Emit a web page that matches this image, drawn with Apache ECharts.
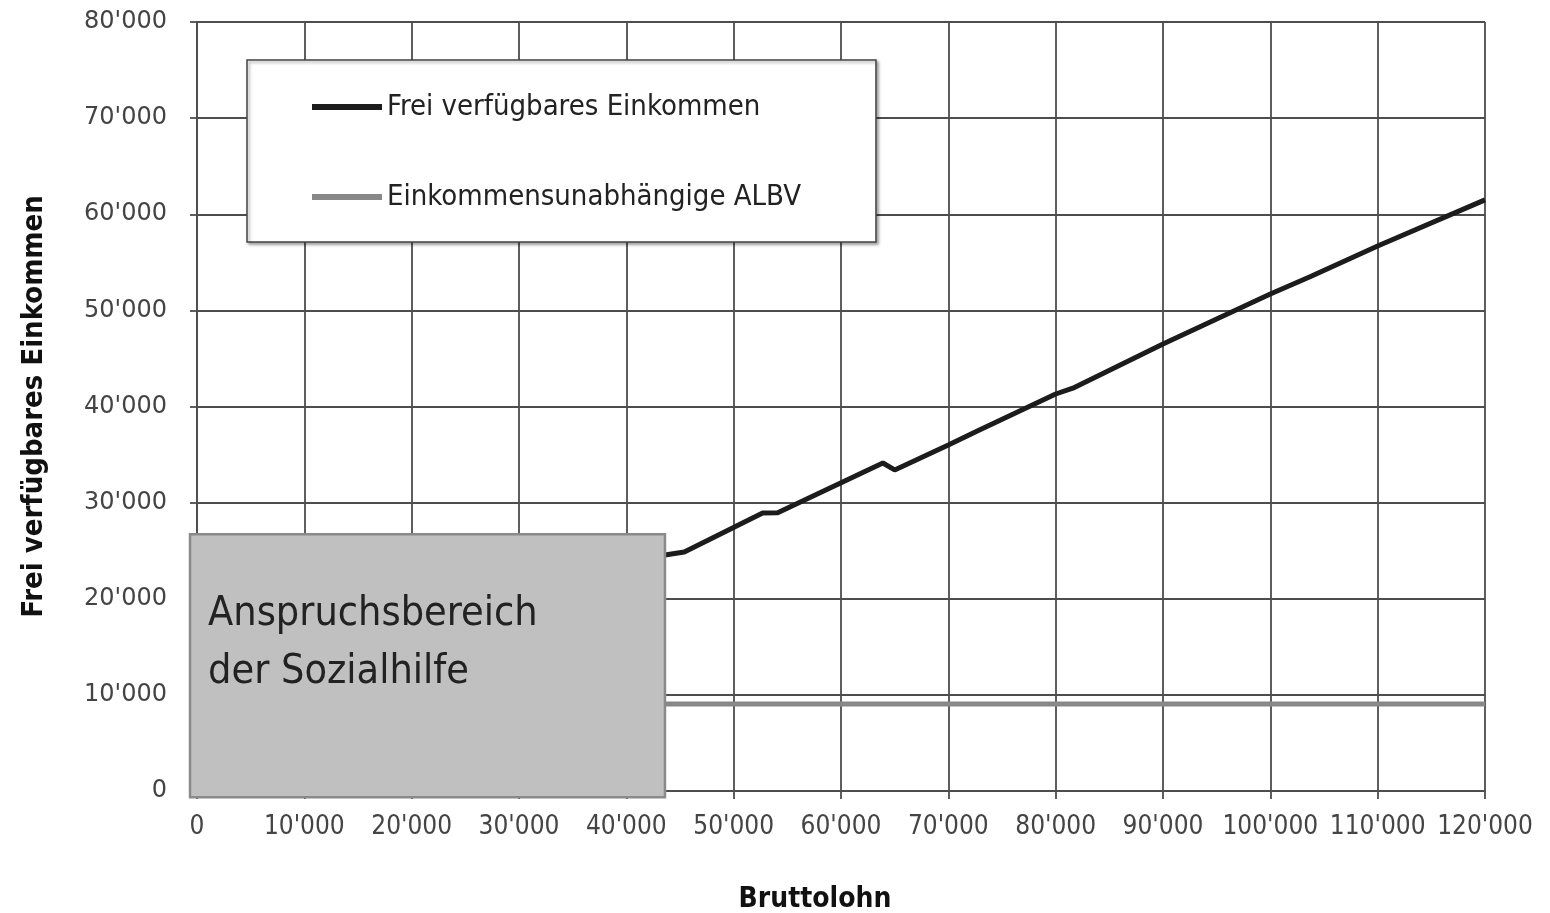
<!DOCTYPE html>
<html>
<head>
<meta charset="utf-8">
<script src="https://cdn.jsdelivr.net/npm/echarts@6/dist/echarts.min.js"></script>
<style>
html,body{margin:0;padding:0;background:#fff;}
#chart{width:1550px;height:913px;}
</style>
</head>
<body>
<div id="chart"></div>
<script>
// ---- data ----
const seriesNames = ['Frei verfügbares Einkommen', 'Einkommensunabhängige ALBV'];
const freiX = [43600, 45400, 52700, 54100, 63900, 65000, 70000, 72700, 80000, 81600, 90000, 100000, 103700, 110000, 120000];
const freiY = [24550, 24860, 28920, 28950, 34120, 33400, 36000, 37450, 41300, 41900, 46500, 51700, 53500, 56700, 61500];
const albvX = [43600, 120000];
const albvY = [9050, 9050];
const boxLabel = ['Anspruchsbereich', 'der Sozialhilfe'];
const boxExtent = [-650, -650, 43600, 26700]; // xMin, yMin, xMax, yMax in data units
const xTitle = 'Bruttolohn';
const yTitle = 'Frei verfügbares Einkommen';

function fmt(v){
  const s = String(Math.round(v));
  return s.replace(/\B(?=(\d{3})+(?!\d))/g, "'");
}

const chart = echarts.init(document.getElementById('chart'));
const gridColor = '#4d4d4d';
chart.setOption({
  animation: false,
  backgroundColor: '#fff',
  grid: {left: 197, right: 65, top: 22, bottom: 122, containLabel: false, outerBoundsMode: 'none'},
  legend: {
    orient: 'vertical',
    left: 247, top: 60,
    padding: [32, 75, 30, 65],
    itemWidth: 70, itemHeight: 6, itemGap: 60, itemTextGap: 7,
    backgroundColor: '#fff',
    borderColor: '#444', borderWidth: 1.5, borderRadius: 0,
    shadowBlur: 3, shadowColor: 'rgba(0,0,0,0.35)', shadowOffsetX: 2, shadowOffsetY: 2,
    textStyle: {fontFamily: 'DejaVu Sans Condensed', fontSize: 29, color: '#222', lineHeight: 30},
    data: [{name: seriesNames[0], icon: 'rect'}, {name: seriesNames[1], icon: 'rect'}]
  },
  xAxis: {
    type: 'value', min: 0, max: 120000, interval: 10000,
    name: xTitle, nameLocation: 'middle', nameGap: 95,
    nameTextStyle: {fontFamily: 'DejaVu Sans Condensed', fontWeight: 'bold', fontSize: 28, color: '#111', padding: [0, 52, 0, 0]},
    axisLine: {show: true, lineStyle: {color: gridColor, width: 1.8}},
    axisTick: {show: true, length: 8, lineStyle: {color: gridColor, width: 1.8}},
    axisLabel: {fontFamily: 'DejaVu Sans Condensed', fontSize: 26, color: '#444', margin: 23, formatter: fmt},
    splitLine: {show: true, lineStyle: {color: gridColor, width: 1.8}}
  },
  yAxis: {
    type: 'value', min: 0, max: 80000, interval: 10000,
    name: yTitle, nameLocation: 'middle', nameGap: 148, nameRotate: 90,
    nameTextStyle: {fontFamily: 'DejaVu Sans Condensed', fontWeight: 'bold', fontSize: 29, color: '#111'},
    axisLine: {show: true, lineStyle: {color: gridColor, width: 1.8}},
    axisTick: {show: true, length: 7, lineStyle: {color: gridColor, width: 1.8}},
    axisLabel: {fontFamily: 'DejaVu Sans', fontSize: 24, color: '#444', margin: 30, formatter: fmt},
    splitLine: {show: true, lineStyle: {color: gridColor, width: 1.8}}
  },
  series: [
    {
      name: seriesNames[0], type: 'line', showSymbol: false, symbol: 'none',
      data: freiX.map((x, i) => [x, freiY[i]]),
      itemStyle: {color: '#1c1c1c'},
      lineStyle: {color: '#1c1c1c', width: 5},
      z: 3
    },
    {
      name: seriesNames[1], type: 'line', showSymbol: false, symbol: 'none',
      data: albvX.map((x, i) => [x, albvY[i]]),
      itemStyle: {color: '#888'},
      lineStyle: {color: '#888', width: 5},
      z: 2
    },
    {
      type: 'custom', z: 10, clip: false, silent: true,
      data: [boxExtent],
      renderItem: function(params, api){
        const p0 = api.coord([api.value(0), api.value(3)]);
        const p1 = api.coord([api.value(2), api.value(1)]);
        return {
          type: 'group',
          children: [
            {type: 'rect', shape: {x: p0[0], y: p0[1], width: p1[0]-p0[0], height: p1[1]-p0[1]},
             style: {fill: '#c0c0c0', stroke: '#8a8a8a', lineWidth: 2.5}},
            {type: 'text', x: p0[0] + 18, y: p0[1] + 51,
             style: {text: boxLabel.join('\n'), fontFamily: 'DejaVu Sans Condensed', fontSize: 41, lineHeight: 58, fill: '#222', verticalAlign: 'top', align: 'left'}}
          ]
        };
      }
    }
  ]
});
</script>
</body>
</html>
